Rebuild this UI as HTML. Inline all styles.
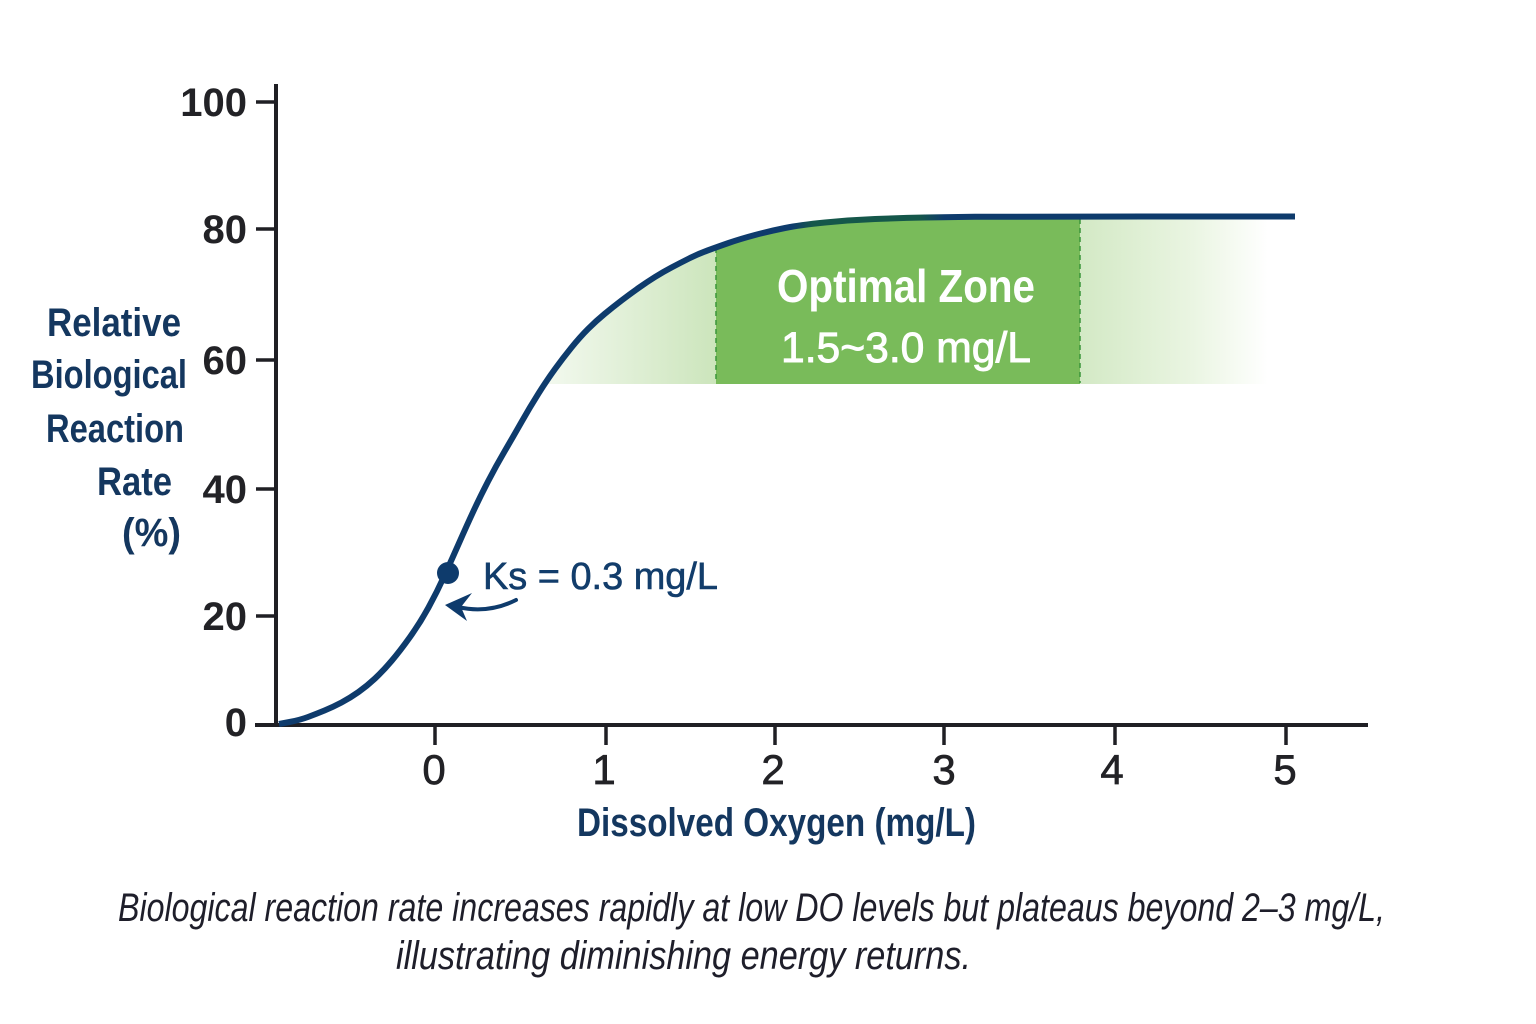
<!DOCTYPE html>
<html>
<head>
<meta charset="utf-8">
<style>
  html,body{margin:0;padding:0;background:#ffffff;}
  svg{display:block;}
  text{font-family:"Liberation Sans", sans-serif;}
</style>
</head>
<body>
<svg width="1536" height="1024" viewBox="0 0 1536 1024" xmlns="http://www.w3.org/2000/svg">
  <defs>
    <linearGradient id="gl" gradientUnits="userSpaceOnUse" x1="545" y1="0" x2="716" y2="0">
      <stop offset="0" stop-color="#f3f9ef"/>
      <stop offset="1" stop-color="#cce5bc"/>
    </linearGradient>
    <linearGradient id="gr" gradientUnits="userSpaceOnUse" x1="1080" y1="0" x2="1268" y2="0">
      <stop offset="0" stop-color="#d3e9c5"/>
      <stop offset="0.6" stop-color="#eaf5e2"/>
      <stop offset="1" stop-color="#ffffff"/>
    </linearGradient>
    <linearGradient id="gline" gradientUnits="userSpaceOnUse" x1="279" y1="0" x2="1295" y2="0">
      <stop offset="0" stop-color="#0e3b6c"/>
      <stop offset="0.505" stop-color="#0e3b6c"/>
      <stop offset="0.525" stop-color="#15574a"/>
      <stop offset="0.63" stop-color="#15574a"/>
      <stop offset="0.655" stop-color="#0e3b6c"/>
      <stop offset="1" stop-color="#0e3b6c"/>
    </linearGradient>
    <clipPath id="under">
      <polygon points="545,383 547,380 563,358 580,337 596,321 613,307 630,294 647,282 663,272 680,263 698,254 717,247 740,239 770,231 800,225 850,220 900,218 950,217 1000,216.5 1295,216.5 1295,384 545,384"/>
    </clipPath>
  </defs>

  <!-- green zones -->
  <g clip-path="url(#under)">
    <rect x="540" y="200" width="176" height="184" fill="url(#gl)"/>
    <rect x="716" y="200" width="364" height="184" fill="#79bb5a"/>
    <rect x="1080" y="200" width="215" height="184" fill="url(#gr)"/>
  </g>
  <line x1="716" y1="248" x2="716" y2="383" stroke="#3a963a" stroke-width="1.5" stroke-dasharray="5 4"/>
  <line x1="1080" y1="219" x2="1080" y2="383" stroke="#3a963a" stroke-width="1.5" stroke-dasharray="5 4"/>

  <text x="906" y="302" fill="#ffffff" font-size="46" font-weight="bold" text-anchor="middle" textLength="258" lengthAdjust="spacingAndGlyphs">Optimal Zone</text>
  <text x="906" y="362" fill="#ffffff" stroke="#ffffff" stroke-width="0.9" font-size="43" text-anchor="middle" textLength="250" lengthAdjust="spacingAndGlyphs">1.5~3.0 mg/L</text>

  <!-- axes -->
  <line x1="276" y1="84" x2="276" y2="727" stroke="#1f1f24" stroke-width="4"/>
  <line x1="255" y1="725" x2="1368" y2="725" stroke="#1f1f24" stroke-width="4"/>
  <g stroke="#1f1f24" stroke-width="3.5">
    <line x1="256" y1="102" x2="276" y2="102"/>
    <line x1="256" y1="229" x2="276" y2="229"/>
    <line x1="256" y1="360" x2="276" y2="360"/>
    <line x1="256" y1="489" x2="276" y2="489"/>
    <line x1="256" y1="616" x2="276" y2="616"/>
    <line x1="435" y1="725" x2="435" y2="745"/>
    <line x1="606" y1="725" x2="606" y2="745"/>
    <line x1="775" y1="725" x2="775" y2="745"/>
    <line x1="944" y1="725" x2="944" y2="745"/>
    <line x1="1115" y1="725" x2="1115" y2="745"/>
    <line x1="1286" y1="725" x2="1286" y2="745"/>
  </g>

  <!-- y tick labels -->
  <g fill="#222226" font-size="40" font-weight="bold" text-anchor="end">
    <text x="247" y="116">100</text>
    <text x="247" y="243">80</text>
    <text x="247" y="374">60</text>
    <text x="247" y="503">40</text>
    <text x="247" y="630">20</text>
    <text x="247" y="736">0</text>
  </g>

  <!-- x tick labels -->
  <g fill="#222226" stroke="#222226" stroke-width="0.7" font-size="42" text-anchor="middle">
    <text x="434" y="784">0</text>
    <text x="604" y="784">1</text>
    <text x="773" y="784">2</text>
    <text x="944" y="784">3</text>
    <text x="1112" y="784">4</text>
    <text x="1285" y="784">5</text>
  </g>

  <!-- y axis title -->
  <g fill="#14375f" font-size="40" font-weight="bold">
    <text x="47" y="336" textLength="134" lengthAdjust="spacingAndGlyphs">Relative</text>
    <text x="31" y="388" textLength="156" lengthAdjust="spacingAndGlyphs">Biological</text>
    <text x="46" y="442" textLength="138" lengthAdjust="spacingAndGlyphs">Reaction</text>
    <text x="97" y="495" textLength="75" lengthAdjust="spacingAndGlyphs">Rate</text>
    <text x="122" y="546" textLength="59" lengthAdjust="spacingAndGlyphs">(%)</text>
  </g>

  <!-- x axis title -->
  <text x="577" y="836" fill="#14375f" font-size="40" font-weight="bold" textLength="399" lengthAdjust="spacingAndGlyphs">Dissolved Oxygen (mg/L)</text>

  <!-- curve -->
  <path fill="none" stroke="url(#gline)" stroke-width="6" stroke-linejoin="round"
    d="M279,724 L289.5,722 Q300,720 308,717 Q316,714 324.5,710.5 Q333,707 341.5,702.5 Q350,698 358.5,692 Q367,686 375,678.5 Q383,671 391.5,661 Q400,651 410,637 Q420,623 428.5,607.5 Q437,592 444.5,575.5 Q452,559 459.5,542 Q467,525 473.5,511 Q480,497 488,481.5 Q496,466 504.5,451.5 Q513,437 521.5,422 Q530,407 538.5,393.5 Q547,380 555,369 Q563,358 571.5,347.5 Q580,337 588,329 Q596,321 604.5,314 Q613,307 621.5,300.5 Q630,294 638.5,288 Q647,282 655,277 Q663,272 671.5,267.5 Q680,263 689,258.5 Q698,254 707.5,250.5 Q717,247 728.5,243 Q740,239 755,235 Q770,231 785,228 Q800,225 825,222.5 Q850,220 875,219 Q900,218 925,217.5 Q950,217 975,216.75 Q1000,216.5 1147.5,216.5 L1295,216.5"/>

  <!-- Ks annotation -->
  <circle cx="448" cy="573" r="11" fill="#0e3b6c"/>
  <text x="483" y="589" fill="#123d6b" stroke="#123d6b" stroke-width="0.6" font-size="38" textLength="235" lengthAdjust="spacingAndGlyphs">Ks = 0.3 mg/L</text>
  <path d="M516,600 Q488,614 458,607" fill="none" stroke="#0e3b6c" stroke-width="4" stroke-linecap="round"/>
  <polygon points="445,605 472,593 461,607 467,621" fill="#0e3b6c"/>

  <!-- caption -->
  <g fill="#1e1e2a" font-size="40" font-style="italic">
    <text x="118" y="921" textLength="1267" lengthAdjust="spacingAndGlyphs">Biological reaction rate increases rapidly at low DO levels but plateaus beyond 2–3 mg/L,</text>
    <text x="396" y="969" textLength="575" lengthAdjust="spacingAndGlyphs">illustrating diminishing energy returns.</text>
  </g>
</svg>
</body>
</html>
